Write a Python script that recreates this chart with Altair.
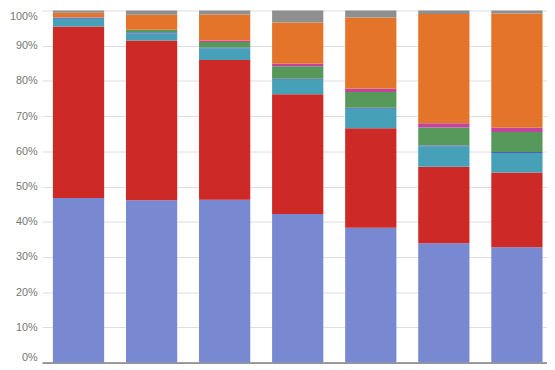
import altair as alt
import pandas as pd

categories = ["1", "2", "3", "4", "5", "6", "7"]
series = ["S1", "S2", "S3", "S4", "S5", "S6", "S7", "S8"]
colors = ["#7889d2", "#cd2a27", "#46a0b8", "#4660c0", "#56995a", "#c2449f", "#e5742b", "#8f8f8f"]

s1 = [46.75, 46.2, 46.2, 42.2, 38.3, 33.9, 32.8]
s2 = [48.7, 45.4, 39.6, 34.0, 28.25, 21.7, 21.2]
s3 = [2.2, 2.0, 3.25, 4.1, 5.55, 5.75, 5.55]
s4 = [0.3, 0.35, 0.3, 0.35, 0.3, 0.3, 0.3]
s5 = [0.1, 0.65, 1.55, 3.5, 4.45, 5.1, 5.65]
s6 = [0.05, 0.1, 0.45, 0.75, 0.9, 1.2, 1.2]
s7 = [1.3, 4.25, 7.4, 11.7, 20.3, 31.0, 32.5]
s8 = [0.6, 1.2, 1.1, 3.4, 1.95, 1.0, 0.85]

all_series = [s1, s2, s3, s4, s5, s6, s7, s8]
rows = []
for si, (name, vals) in enumerate(zip(series, all_series)):
    for c, v in zip(categories, vals):
        rows.append({"cat": c, "series": name, "idx": si, "value": v})
df = pd.DataFrame(rows)

chart = alt.Chart(df).mark_bar().encode(
    x=alt.X("cat:N", sort=categories, title=None,
            scale=alt.Scale(paddingInner=0.2987, paddingOuter=0.149),
            axis=alt.Axis(labels=False, ticks=False, domain=True, domainColor="#444",
                          domainWidth=1, grid=False)),
    y=alt.Y("value:Q", stack="normalize", title=None,
            scale=alt.Scale(domain=[0, 1], nice=False),
            axis=alt.Axis(values=[i / 10 for i in range(11)], format=".0%", ticks=False,
                          domain=False, labelPadding=5, labelColor="#777",
                          labelFont="Liberation Sans", labelFontSize=11,
                          labelFlush=True,
                          gridColor="#dddddd", gridWidth=1)),
    color=alt.Color("series:N", sort=series,
                    scale=alt.Scale(domain=series, range=colors), legend=None),
    order=alt.Order("idx:Q", sort="ascending"),
).properties(
    width=518.6,
    height=357,
    autosize=alt.AutoSizeParams(type="none"),
    padding={"left": 34.5, "top": 0, "right": -6.5, "bottom": 5},
).configure_view(stroke=None)

chart.save("out.html", embed_options={"renderer": "svg", "actions": False})
